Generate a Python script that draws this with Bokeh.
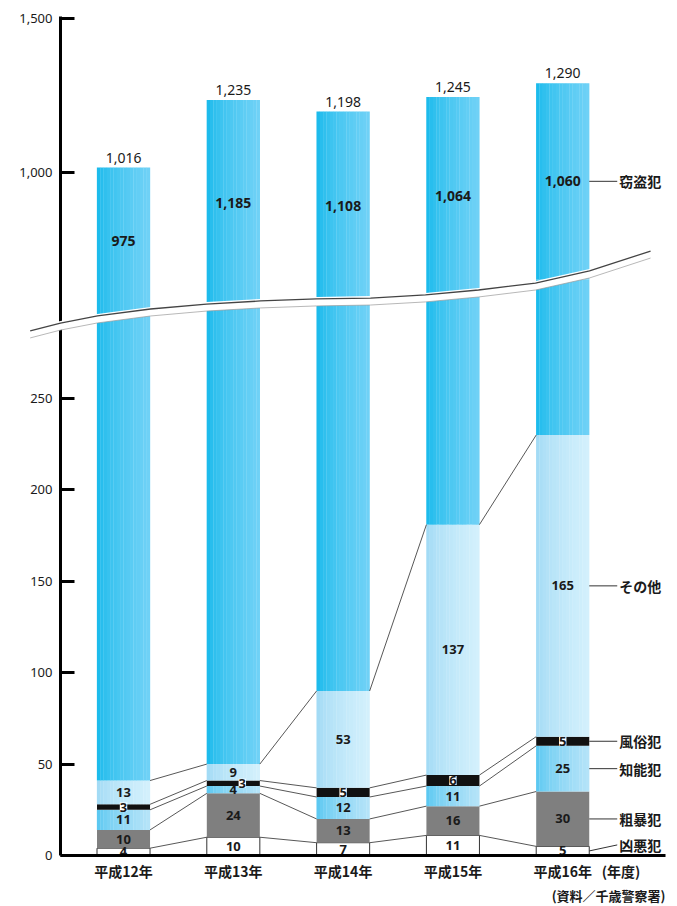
import numpy as np
from bokeh.plotting import figure
from bokeh.models import ColumnDataSource, Range1d, FixedTicker, Label, Title
from bokeh.core.properties import value
from bokeh.embed import file_html
from bokeh.resources import INLINE

# ---------------- data ----------------
years = ["平成12年", "平成13年", "平成14年", "平成15年", "平成16年"]
series = ["凶悪犯", "粗暴犯", "知能犯", "風俗犯", "その他", "窃盗犯"]
kyoaku = [4, 10, 7, 11, 5]        # 凶悪犯
soboku = [10, 24, 13, 16, 30]     # 粗暴犯
chino = [11, 4, 12, 11, 25]       # 知能犯
fuzoku = [3, 3, 5, 6, 5]          # 風俗犯
sonota = [13, 9, 53, 137, 165]    # その他
setto = [975, 1185, 1108, 1064, 1060]  # 窃盗犯
lower_ticks = [0, 50, 100, 150, 200, 250]
upper_ticks = [1000, 1500]
unit_label = "(年度)"
source_note = "(資料／千歳警察署)"

# ---------------- layout / scales ----------------
W, H = 672, 904
MB_L, MB_R, MB_T, MB_B = 60, 7, 16, 49
FRAME_W = W - MB_L - MB_R
FRAME_H = H - MB_T - MB_B
X_PX = 109.8          # px per category step
LOW_PX = 1.828        # px per unit (lower part)
UP_PX = 0.308         # px per unit (upper part)
BW = 0.483            # bar width (category units)
x_start = -0.574

xr = Range1d(x_start, x_start + FRAME_W / X_PX)
yr = Range1d(0, FRAME_H / LOW_PX)
up_start = 1000 - 683 / UP_PX
upr = Range1d(up_start, up_start + FRAME_H / UP_PX)


def up_to_low(v):
    return (v - up_start) * UP_PX / LOW_PX


def low_to_up(v):
    return up_start + v * LOW_PX / UP_PX


p = figure(width=W, height=H, x_range=xr, y_range=yr, output_backend="svg",
           toolbar_location=None, min_border_left=MB_L, min_border_right=MB_R,
           min_border_top=MB_T, min_border_bottom=MB_B)
p.extra_y_ranges = {"upper": upr}
p.outline_line_color = None
p.grid.visible = False
p.background_fill_color = "white"
p.border_fill_color = "white"

# ---------------- break wave (decoration, lower units) ----------------
wave_x = np.array([-0.85, -0.574, -0.237, 0.246, 0.756, 1.248, 1.758, 2.25, 2.75,
                   3.233, 3.752, 4.244, 4.80])
wave_y = np.array([285.6, 289.9, 293.8, 297.6, 300.3, 302.0, 303.1, 303.6, 305.3,
                   308.0, 311.8, 318.4, 329.3])

idx = np.arange(len(years))
wave_at_bar = np.interp(idx, wave_x, wave_y)


def mix(c1, c2, t):
    a = [int(c1[i:i + 2], 16) for i in (1, 3, 5)]
    b = [int(c2[i:i + 2], 16) for i in (1, 3, 5)]
    return "#%02x%02x%02x" % tuple(round(a[j] + (b[j] - a[j]) * t) for j in range(3))


def grad_bars(bottoms, tops, c_left, c_right, range_name="default", n=16):
    for k in range(n):
        t = (k / (n - 1)) ** 0.7
        col = mix(c_left, c_right, t)
        xs = idx - BW / 2 + (k + 0.5) * BW / n
        src = ColumnDataSource(dict(x=xs, bottom=list(bottoms), top=list(tops)))
        p.vbar(x="x", bottom="bottom", top="top", width=BW / n * 1.08, source=src,
               fill_color=col, line_color=None, y_range_name=range_name)


def flat_bars(bottoms, tops, fill, line=None):
    src = ColumnDataSource(dict(x=idx, bottom=list(bottoms), top=list(tops)))
    p.vbar(x="x", bottom="bottom", top="top", width=BW, source=src, fill_color=fill,
           line_color=line, line_width=1)


layers = [kyoaku, soboku, chino, fuzoku, sonota]
styles = [("flat", "#ffffff", "#333333"), ("flat", "#7f7f7f", None),
          ("grad", "#5cc8f1", "#b4e3f8"), ("flat", "#111111", None),
          ("grad", "#a3dbf5", "#d3f0fc")]
cum = np.zeros(len(years))
bounds = []
for arr, st in zip(layers, styles):
    b = cum.copy()
    t = cum + np.array(arr, dtype=float)
    if st[0] == "flat":
        flat_bars(b, t, st[1], st[2])
    else:
        grad_bars(b, t, st[1], st[2])
    bounds.append((b, t))
    cum = t

totals = cum + np.array(setto)
# 窃盗犯: lower part up to the break, upper part from the break to the total
grad_bars(cum, wave_at_bar, "#1cbbec", "#6fd1f6")
grad_bars(low_to_up(wave_at_bar), totals, "#1cbbec", "#6fd1f6", range_name="upper")

# connecting lines between bars
sx0, sy0, sx1, sy1 = [], [], [], []
for (b, t) in bounds:
    for i in range(len(years) - 1):
        sx0.append(i + BW / 2); sy0.append(t[i])
        sx1.append(i + 1 - BW / 2); sy1.append(t[i + 1])
p.segment(x0=sx0, y0=sy0, x1=sx1, y1=sy1, line_color="#444444", line_width=0.9)

# wave band
d = 4.5 / LOW_PX
p.varea(x=wave_x, y1=wave_y - d, y2=wave_y + d, fill_color="white", level="overlay")
p.line(x=wave_x, y=wave_y + d * 0.55, line_color="#444444", line_width=1.3, level="overlay")
p.line(x=wave_x, y=wave_y - d, line_color="#9a9a9a", line_width=0.7, level="overlay")

# ---------------- value labels ----------------
NUM_FONT = value("Noto Sans")
JP_FONT = "Noto Sans CJK JP"
nudges = {(3, 1): 9}   # (layer, bar): x offset px
lx, ly, lt, lxo, lbg = [], [], [], [], []
for li, ((b, t), arr) in enumerate(zip(bounds, layers)):
    for i in range(len(years)):
        lx.append(i); ly.append((b[i] + t[i]) / 2); lt.append(str(arr[i]))
        lxo.append(nudges.get((li, i), 0))
        lbg.append("white" if li == 3 else None)
seg_src = ColumnDataSource(dict(x=lx, y=ly, text=lt, xo=lxo, bg=lbg))
p.text(x="x", y="y", text="text", x_offset="xo", source=seg_src, text_font=NUM_FONT,
       text_font_size="13px", text_font_style="bold", text_align="center",
       text_baseline="middle", text_color="#1a1a1a", background_fill_color="bg",
       padding=0)

# 窃盗犯 labels, in the middle of the visible upper part
st_y = (totals + low_to_up(wave_at_bar)) / 2
st_src = ColumnDataSource(dict(x=idx, y=st_y, text=[f"{v:,}" for v in setto]))
p.text(x="x", y="y", text="text", source=st_src, y_range_name="upper", text_font=NUM_FONT,
       text_font_size="14px", text_font_style="bold", text_align="center",
       text_baseline="middle", text_color="#1a1a1a")

tot_src = ColumnDataSource(dict(x=idx, y=totals, text=[f"{int(v):,}" for v in totals]))
p.text(x="x", y="y", text="text", source=tot_src, y_range_name="upper", y_offset=-5,
       text_font=NUM_FONT, text_font_size="14px", text_align="center",
       text_baseline="bottom", text_color="#1a1a1a")

# ---------------- series labels at right ----------------
last = len(years) - 1
edge = last + BW / 2
lead = 28 / X_PX
label_y = [(b[last] + t[last]) / 2 for (b, t) in bounds] + [up_to_low(st_y[last])]
label_dy = [6, 0, 0, 0, 0, 0]  # px raise of label
for name, yv, dy in zip(series, label_y, label_dy):
    p.segment(x0=[edge], y0=[yv], x1=[edge + lead], y1=[yv + dy / LOW_PX],
              line_color="#333333", line_width=1)
    p.add_layout(Label(x=edge, y=yv, x_offset=30, y_offset=dy, text=name,
                       text_font=JP_FONT, text_font_size="14px", text_font_style="bold",
                       text_baseline="middle", text_align="left", text_color="#1a1a1a"))

# ---------------- axes ----------------
unit_pos = 4.53
xa = p.xaxis[0]
xa.ticker = FixedTicker(ticks=list(idx) + [unit_pos])
ovx = {int(i): years[i] for i in idx}
ovx[unit_pos] = unit_label
xa.major_label_overrides = ovx
xa.axis_line_width = 3
xa.axis_line_color = "black"
xa.major_tick_line_color = None
xa.major_tick_out = 0
xa.major_tick_in = 0
xa.minor_tick_line_color = None
xa.major_label_text_font = JP_FONT
xa.major_label_text_font_size = "14px"
xa.major_label_text_font_style = "bold"
xa.major_label_text_color = "#1a1a1a"
xa.major_label_standoff = 5

ya = p.yaxis[0]
up_pos = [round(up_to_low(v), 3) for v in upper_ticks]
ya.ticker = FixedTicker(ticks=lower_ticks + up_pos)
ov = {v: f"{v:,}" for v in lower_ticks}
ov.update({pos: f"{v:,}" for pos, v in zip(up_pos, upper_ticks)})
ya.major_label_overrides = ov
ya.axis_line_width = 3
ya.axis_line_color = "black"
ya.major_tick_line_width = 3
ya.major_tick_line_color = "black"
ya.major_tick_in = 14
ya.major_tick_out = 0
ya.minor_tick_line_color = None
ya.major_label_text_font = "Noto Sans"
ya.major_label_text_font_size = "13px"
ya.major_label_text_color = "#1a1a1a"
ya.major_label_standoff = 8

p.add_layout(Title(text=source_note, align="right", text_font=JP_FONT,
                   text_font_size="13px", text_font_style="bold", text_color="#1a1a1a",
                   standoff=0, offset=0), "below")

open("out.html", "w").write(file_html(p, INLINE))
